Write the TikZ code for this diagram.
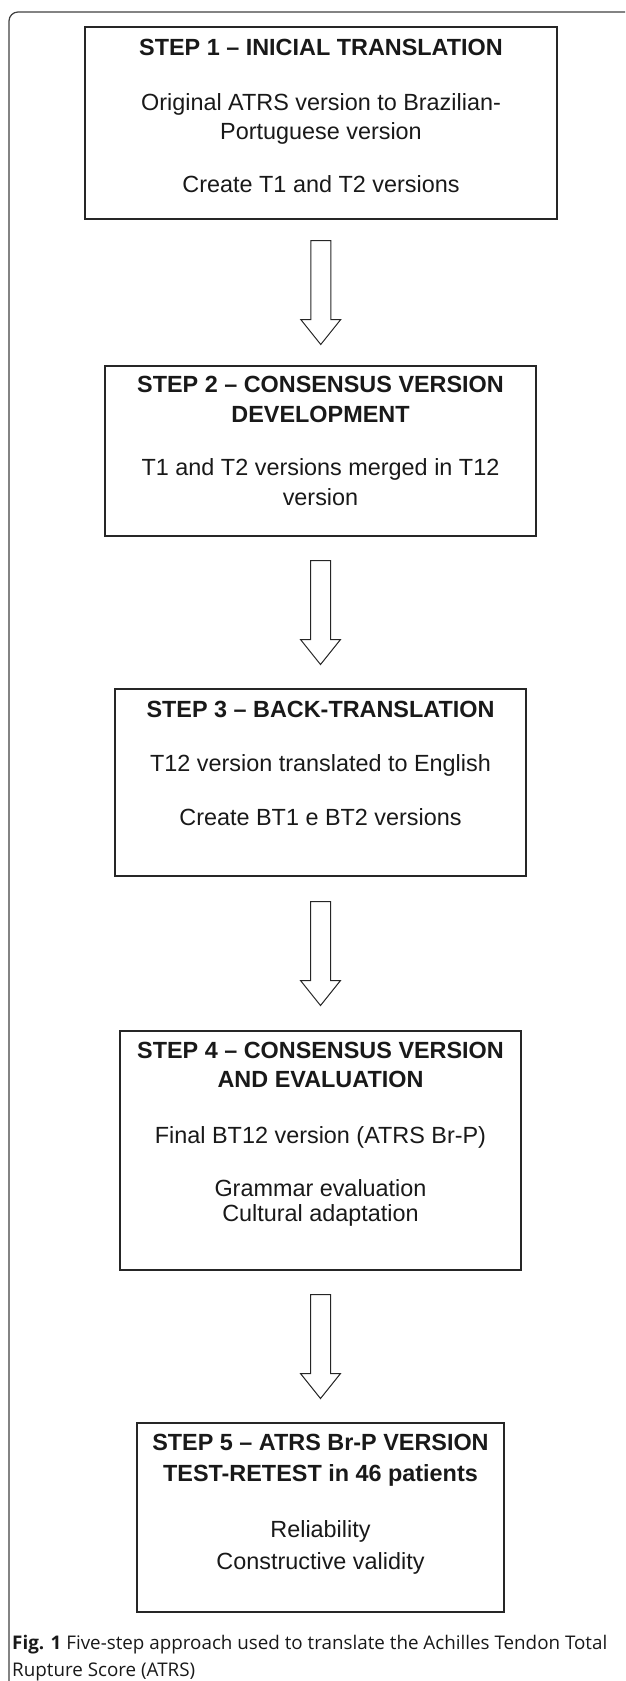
\documentclass[tikz,border=0pt]{standalone}
\usepackage{fontspec}
\setmainfont{Liberation Sans}
\newfontfamily\captionfont{Open Sans}
\usetikzlibrary{calc, positioning}

\begin{document}
\begin{tikzpicture}[x=1pt, y=1pt,
    stepbox/.style 2 args={draw=black!85, line width=1.3pt, inner sep=0, minimum width=#1, minimum height=#2},
    steptext/.style={align=center, inner sep=0, text=black!90, font=\fontsize{23.4}{29}\selectfont},
    arrowline/.style={draw=black!85, line width=1pt, line join=miter}]
\useasboundingbox (0,0) rectangle (625,-1681);

% outer frame of the figure
\draw[line width=1.2pt, black!75, rounded corners=9pt] (9,-1681) -- (9,-12) -- (625,-12);

% the five steps
\node[stepbox={472}{192}] (s1) at (321,-123) {};
\node[steptext, below=13pt of s1.north] (t1) {\textbf{STEP 1 – INICIAL TRANSLATION}\\[26pt]
    Original ATRS version to Brazilian-\\Portuguese version\\[23.5pt]
    Create T1 and T2 versions};

\node[stepbox={431}{170}] (s2) at (320.5,-451) {};
\node[steptext, below=10.5pt of s2.north] (t2) {\textbf{STEP 2 – CONSENSUS VERSION}\\[1pt]
    \textbf{DEVELOPMENT}\\[24.5pt]
    T1 and T2 versions merged in T12\\[1pt]version};

\node[stepbox={411}{187}] (s3) at (320.5,-782.5) {};
\node[steptext, below=12.5pt of s3.north] (t3) {\textbf{STEP 3 – BACK-TRANSLATION}\\[25pt]
    T12 version translated to English\\[25pt]
    Create BT1 e BT2 versions};

\node[stepbox={401}{239}] (s4) at (320.5,-1150.5) {};
\node[steptext, below=11.5pt of s4.north] (t4) {\textbf{STEP 4 – CONSENSUS VERSION}\\[0.5pt]
    \textbf{AND EVALUATION}\\[26.5pt]
    Final BT12 version (ATRS Br-P)\\[24pt]
    Grammar evaluation\\[-3.5pt]Cultural adaptation};

\node[stepbox={367}{189}] (s5) at (320.5,-1517.5) {};
\node[steptext, below=11.5pt of s5.north] (t5) {\textbf{STEP 5 – ATRS Br-P VERSION}\\[2pt]
    \textbf{TEST-RETEST in 46 patients}\\[27pt]
    Reliability\\[3pt]Constructive validity};

% hollow block arrows between the steps
\foreach \a/\b in {s1/s2, s2/s3, s3/s4, s4/s5}
    \draw[arrowline] ($(\a.south)!0.5!(\b.north)$) ++(-10,52) -- ++(0,-79) -- ++(-10,0)
        -- ++(20,-25) -- ++(20,25) -- ++(-10,0) -- ++(0,79) -- cycle;

% caption
\node[anchor=north west, align=left, inner sep=0, text=black!90,
    font=\captionfont\fontsize{18.8}{26.5}\selectfont] (cap) at (12,-1635)
    {\textbf{Fig. 1} Five-step approach used to translate the Achilles Tendon Total\\Rupture Score (ATRS)};
\end{tikzpicture}
\end{document}
